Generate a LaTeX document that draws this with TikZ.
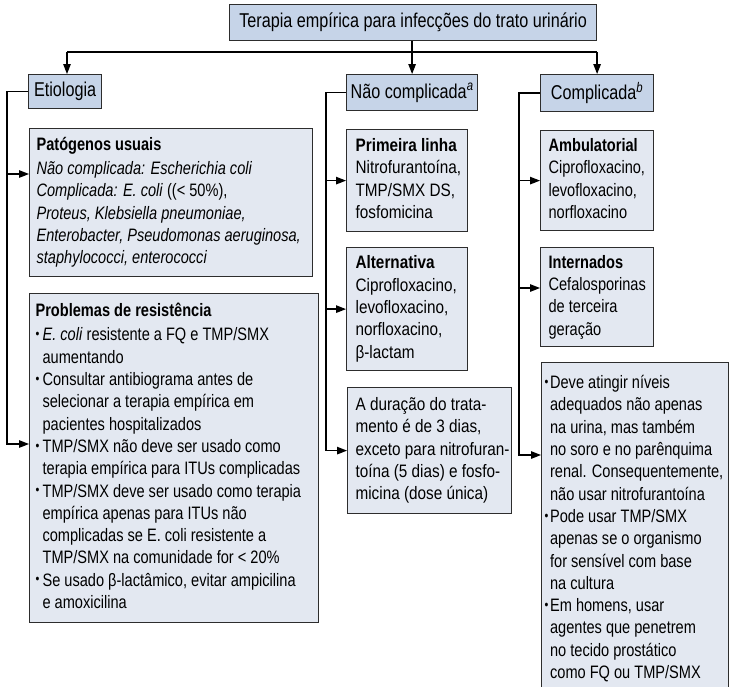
\documentclass[tikz,border=0pt]{standalone}
\usepackage{fontspec}
\setmainfont{Liberation Sans}[FakeStretch=0.81]
\newfontfamily\midfont{Liberation Sans}[FakeStretch=0.85]
\usetikzlibrary{arrows.meta}

\definecolor{hdrfill}{RGB}{198,212,232}
\definecolor{boxfill}{RGB}{227,232,241}
\definecolor{edge}{RGB}{45,45,45}

% left-aligned block of fixed width holding hand-broken lines
\newcommand{\boxlines}[2]{\makebox[#1][l]{\begin{tabular}{@{}l@{}}#2\end{tabular}}}
% small bullet mark
\newcommand{\dotmark}{\raisebox{0.25ex}{\scalebox{0.75}{\textbullet}}}
% bullets with hanging indent
\newcommand{\bulL}{\makebox[7pt][l]{\dotmark}}
\newcommand{\indL}{\hspace*{7pt}}
\newcommand{\bulR}{\makebox[5.5pt][l]{\dotmark}}
\newcommand{\indR}{\hspace*{5.5pt}}

\tikzset{
  hdr/.style={anchor=north west, draw=edge, fill=hdrfill, line width=1.2pt,
    inner sep=0pt, font=\fontsize{20}{24}\selectfont},
  txt/.style={anchor=north west, draw=edge, fill=boxfill, line width=1.2pt,
    inner ysep=0pt, font=\fontsize{18}{22.3}\selectfont},
  midtxt/.style={txt, font=\midfont\fontsize{18}{22.3}\selectfont},
  link/.style={draw=black, line width=1.3pt},
  arr/.style={link, -{Triangle[length=10pt,width=7.5pt]}}
}

\begin{document}
\begin{tikzpicture}[x=1pt, y=-1pt]
\useasboundingbox (0,0) rectangle (731,686);

\begin{scope}
\clip (0,0) rectangle (731,686);

% headings
\node[hdr, minimum width=367pt, minimum height=36pt] (title) at (229,4)
  {Terapia empírica para infecções do trato urinário};
\node[hdr, minimum width=73pt, minimum height=34pt] (etio) at (28,74) {Etiologia};
\node[hdr, minimum width=131pt, minimum height=36pt] (noncomp) at (346,74)
  {Não complicada\textsuperscript{\itshape a}};
\node[hdr, minimum width=113pt, minimum height=37pt] (comp) at (540,74)
  {Complicada\textsuperscript{\itshape b}};

% etiology column
\node[txt, inner xsep=7pt, minimum height=148pt] (pat) at (29,128) {\boxlines{269pt}{%
  \textbf{Patógenos usuais}\\[2pt]
  \textit{Não complicada: Escherichia coli}\\
  \textit{Complicada: E. coli} ((<~50\%),\\
  \textit{Proteus, Klebsiella pneumoniae,}\\
  \textit{Enterobacter, Pseudomonas aeruginosa,}\\
  \textit{staphylococci, enterococci}}};

\node[txt, inner xsep=6pt, minimum height=329pt] (prob) at (29,293) {\boxlines{277pt}{%
  \textbf{Problemas de resistência}\\[2pt]
  \bulL\textit{E. coli} resistente a FQ e TMP/SMX\\
  \indL aumentando\\
  \bulL Consultar antibiograma antes de\\
  \indL selecionar a terapia empírica em\\
  \indL pacientes hospitalizados\\
  \bulL TMP/SMX não deve ser usado como\\
  \indL terapia empírica para ITUs complicadas\\
  \bulL TMP/SMX deve ser usado como terapia\\
  \indL empírica apenas para ITUs não\\
  \indL complicadas se E. coli resistente a\\
  \indL TMP/SMX na comunidade for <~20\%\\
  \bulL Se usado β-lactâmico, evitar ampicilina\\
  \indL e amoxicilina}};

% uncomplicated column
\node[midtxt, inner xsep=9pt, minimum height=102pt] (first) at (346,129) {\boxlines{103pt}{%
  \textbf{Primeira linha}\\
  Nitrofurantoína,\\
  TMP/SMX DS,\\
  fosfomicina}};

\node[midtxt, inner xsep=9pt, minimum height=123pt] (alt) at (346,247) {\boxlines{103pt}{%
  \textbf{Alternativa}\\
  Ciprofloxacino,\\
  levofloxacino,\\
  norfloxacino,\\
  β-lactam}};

\node[midtxt, inner xsep=8pt, minimum height=126pt] (dur) at (347,387) {\boxlines{148pt}{%
  A duração do trata-\\
  mento é de 3 dias,\\
  exceto para nitrofuran-\\
  toína (5 dias) e fosfo-\\
  micina (dose única)}};

% complicated column
\node[txt, inner xsep=8pt, minimum height=100pt] (amb) at (540,130) {\boxlines{97pt}{%
  \textbf{Ambulatorial}\\
  Ciprofloxacino,\\
  levofloxacino,\\
  norfloxacino}};

\node[txt, inner xsep=8pt, minimum height=99pt] (inp) at (540,247) {\boxlines{97pt}{%
  \textbf{Internados}\\
  Cefalosporinas\\
  de terceira\\
  geração}};

\node[txt, inner xsep=3pt, minimum height=333pt] (note) at (541,362) {\boxlines{181pt}{%
  \bulR Deve atingir níveis\\
  \indR adequados não apenas\\
  \indR na urina, mas também\\
  \indR no soro e no parênquima\\
  \indR renal. Consequentemente,\\
  \indR não usar nitrofurantoína\\
  \bulR Pode usar TMP/SMX\\
  \indR apenas se o organismo\\
  \indR for sensível com base\\
  \indR na cultura\\
  \bulR Em homens, usar\\
  \indR agentes que penetrem\\
  \indR no tecido prostático\\
  \indR como FQ ou TMP/SMX}};
\end{scope}

% top distribution
\coordinate (bus) at (412,52);
\coordinate (etiodrop) at (67,52);
\draw[arr] (title.south -| noncomp.north) -- (noncomp.north);
\draw[link] (etiodrop) -- (bus -| comp.north);
\draw[arr] (etiodrop) -- (etiodrop |- etio.north);
\draw[arr] (bus -| comp.north) -- (comp.north);

% etiology spine
\coordinate (lspine) at (7,0);
\coordinate (patin) at (0,174);
\coordinate (probin) at (0,444);
\draw[arr] (etio.west) -| (lspine |- probin) -- (probin -| prob.west);
\draw[arr] (lspine |- patin) -- (patin -| pat.west);

% uncomplicated spine
\coordinate (mspine) at (326,0);
\draw[arr] (noncomp.west) -| (mspine |- dur.west) -- (dur.west);
\draw[arr] (mspine |- first.west) -- (first.west);
\draw[arr] (mspine |- alt.west) -- (alt.west);

% complicated spine
\coordinate (rspine) at (519,0);
\coordinate (inpin) at (0,288);
\coordinate (notein) at (0,455);
\draw[arr] (comp.west) -| (rspine |- notein) -- (notein -| note.west);
\draw[arr] (rspine |- amb.west) -- (amb.west);
\draw[arr] (rspine |- inpin) -- (inpin -| inp.west);
\end{tikzpicture}
\end{document}
